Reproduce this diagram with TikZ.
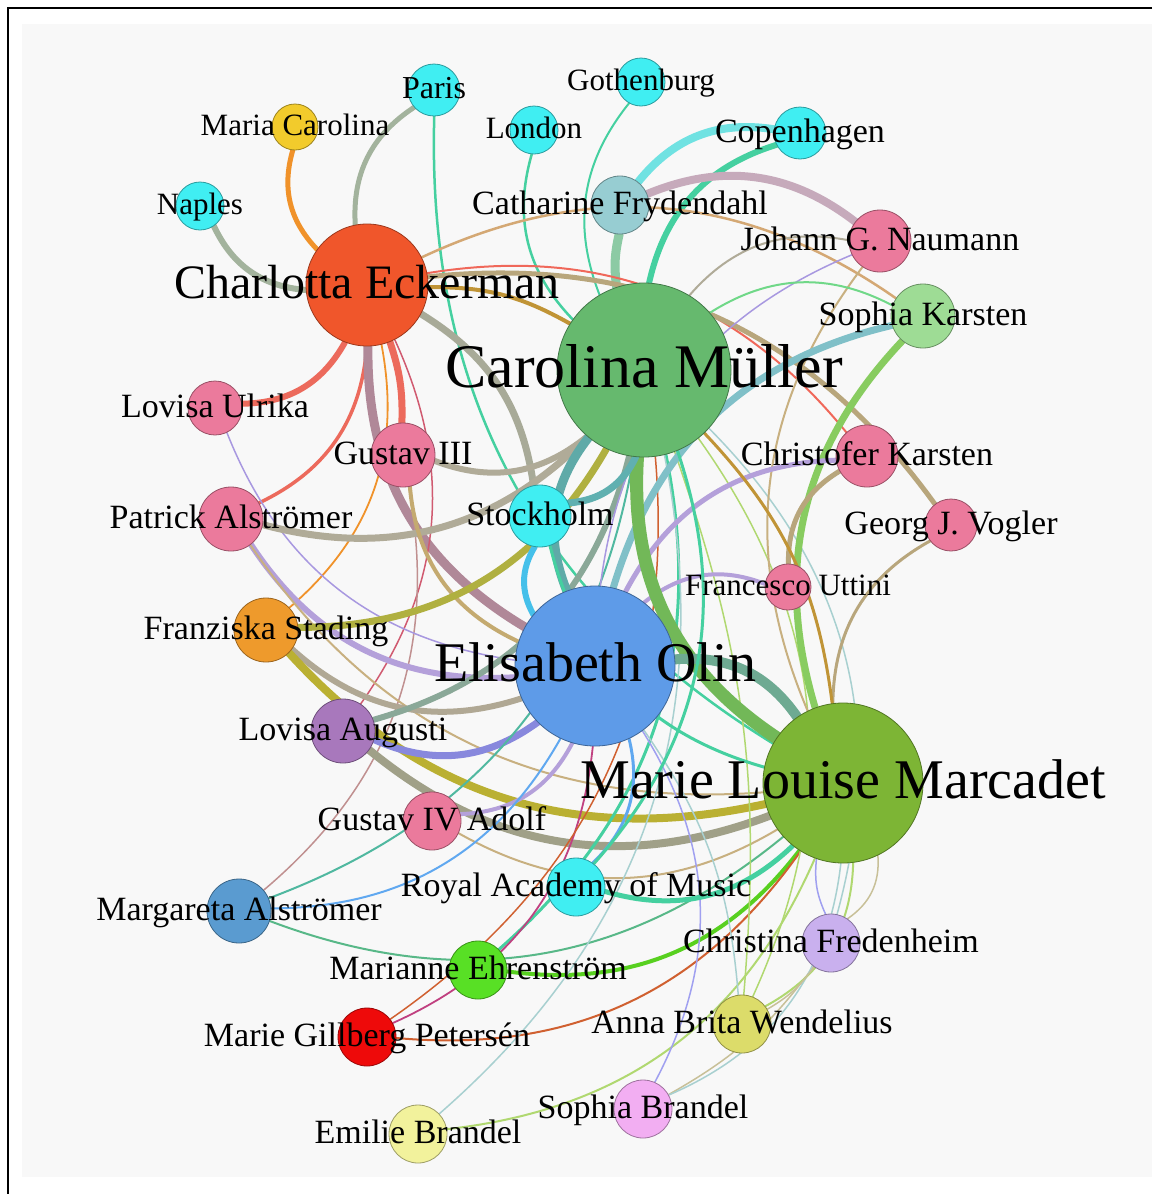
\documentclass[tikz,border=0pt]{standalone}
\usepackage{fontspec}
\setmainfont{Liberation Serif}
\pgfdeclarelayer{bg}
\pgfdeclarelayer{edges}
\pgfdeclarelayer{labels}
\pgfsetlayers{bg,edges,main,labels}

% node fills
\definecolor{city}{HTML}{40EEF2}
\definecolor{rose}{HTML}{EB7A9C}
\definecolor{cmgreen}{HTML}{66B96E}
\definecolor{eoblue}{HTML}{5E9BE8}
\definecolor{mlgreen}{HTML}{7DB535}
\definecolor{ceorange}{HTML}{F0562B}
\definecolor{mcyellow}{HTML}{F2CB2C}
\definecolor{cfteal}{HTML}{97CDD2}
\definecolor{sklight}{HTML}{9EDC95}
\definecolor{fsorange}{HTML}{EE9A2C}
\definecolor{lapurple}{HTML}{A878BC}
\definecolor{mablue}{HTML}{5A9BD0}
\definecolor{megreen}{HTML}{58E025}
\definecolor{mgred}{HTML}{EE0A0A}
\definecolor{cfrlav}{HTML}{C9B0EE}
\definecolor{awolive}{HTML}{DCDC6A}
\definecolor{sbpink}{HTML}{F2AEF2}
\definecolor{ebyellow}{HTML}{F2F29C}
\definecolor{canvas}{HTML}{F8F8F8}
% link colours
\definecolor{sage}{HTML}{A3B39D}
\definecolor{lorange}{HTML}{F0922A}
\definecolor{mint}{HTML}{45D0A0}
\definecolor{lcyan}{HTML}{70E2E2}
\definecolor{mauve}{HTML}{C6AABB}
\definecolor{paleg}{HTML}{8CCAA4}
\definecolor{ltan}{HTML}{D4A874}
\definecolor{lred}{HTML}{F0685A}
\definecolor{gold}{HTML}{C09436}
\definecolor{tant}{HTML}{B8A67C}
\definecolor{grayg}{HTML}{A8AA98}
\definecolor{redt}{HTML}{EC6A5C}
\definecolor{mauvet}{HTML}{B08898}
\definecolor{crimson}{HTML}{D05A70}
\definecolor{roseb}{HTML}{C09090}
\definecolor{lav}{HTML}{A898E0}
\definecolor{tangray}{HTML}{B0AB98}
\definecolor{lavt}{HTML}{B4A0DA}
\definecolor{tanthin}{HTML}{C8B080}
\definecolor{khaki}{HTML}{C4AA70}
\definecolor{olive}{HTML}{B0B040}
\definecolor{olivet}{HTML}{BAB032}
\definecolor{beige}{HTML}{B0A894}
\definecolor{lblue}{HTML}{8888DD}
\definecolor{grayteal}{HTML}{8AA898}
\definecolor{grayol}{HTML}{A0A088}
\definecolor{skyblue}{HTML}{60A8F0}
\definecolor{tealg}{HTML}{50B8A0}
\definecolor{greenm}{HTML}{58B888}
\definecolor{bgreen}{HTML}{58D020}
\definecolor{rust}{HTML}{D06030}
\definecolor{magenta}{HTML}{C04080}
\definecolor{lgreen}{HTML}{B0D870}
\definecolor{lteal}{HTML}{A8D0D0}
\definecolor{lavblue}{HTML}{A0A0F0}
\definecolor{khakil}{HTML}{C8C098}
\definecolor{tealblue}{HTML}{80C0C8}
\definecolor{leaf}{HTML}{88CC60}
\definecolor{bigleaf}{HTML}{72B858}
\definecolor{teal}{HTML}{5FAAA8}
\definecolor{seafoam}{HTML}{6EAA92}
\definecolor{azure}{HTML}{45C0EA}
\definecolor{stteal}{HTML}{60B0B0}
\definecolor{lgreenb}{HTML}{70D888}

\tikzset{
  vtx/.style={circle, inner sep=0pt, line width=0.8pt},
  lbl/.style={anchor=base, inner sep=0pt, text=black},
  edge/.style={line cap=round},
}
\newcommand{\conn}[5]{\draw[edge, draw=#3, line width=#4pt] (#1) to[#5] (#2);}

\begin{document}
\begin{tikzpicture}[x=1pt, y=-1pt]
\useasboundingbox (0,0) rectangle (1152,1194);
\begin{pgfonlayer}{bg}
  \fill[white] (0,0) rectangle (1152,1194);
  \fill[canvas] (22,24) rectangle (1152,1177);
  \draw[black, line width=2pt] (1152,8) -- (8,8) -- (8,1194);
\end{pgfonlayer}

% circles with their names
\foreach \n/\x/\y/\d/\c/\s/\t in {
  NA/200/206/48/city/31/Naples,
  MC/295/127/46/mcyellow/31/Maria Carolina,
  PA/434/90/52/city/32/Paris,
  GO/641/82/48/city/31/Gothenburg,
  LO/534/130/48/city/31/London,
  CO/800/133/52/city/34/Copenhagen,
  CF/620/205/58/cfteal/34/Catharine Frydendahl,
  JN/880/241/62/rose/34/Johann G. Naumann,
  SK/923/316/64/sklight/34/Sophia Karsten,
  CE/367/285/122/ceorange/48/Charlotta Eckerman,
  CM/644/370/174/cmgreen/62/Carolina Müller,
  LU/215/408/54/rose/34/Lovisa Ulrika,
  GT/403/455/64/rose/34/Gustav III,
  PAl/231/519/64/rose/34/Patrick Alströmer,
  ST/540/516/62/city/34/Stockholm,
  CK/867/456/62/rose/34/Christofer Karsten,
  GV/951/525/52/rose/34/Georg J. Vogler,
  FU/788/587/46/rose/31/Francesco Uttini,
  FS/266/630/64/fsorange/34/Franziska Stading,
  EO/595/666/160/eoblue/56/Elisabeth Olin,
  LA/343/731/64/lapurple/34/Lovisa Augusti,
  ML/843/783/160/mlgreen/56/Marie Louise Marcadet,
  GF/432/821/58/rose/34/Gustav IV Adolf,
  MA/239/911/64/mablue/34/Margareta Alströmer,
  RA/576/887/58/city/34/Royal Academy of Music,
  ME/478/970/58/megreen/34/Marianne Ehrenström,
  CFr/831/943/58/cfrlav/34/Christina Fredenheim,
  MG/367/1037/58/mgred/34/Marie Gillberg Petersén,
  AW/742/1024/58/awolive/34/Anna Brita Wendelius,
  SB/643/1109/58/sbpink/34/Sophia Brandel,
  EB/418/1134/58/ebyellow/34/Emilie Brandel}
{
  \node[vtx, fill=\c, draw=\c!65!black, minimum size=\d pt] (\n) at (\x,\y) {};
  \begin{pgfonlayer}{labels}
    \node[lbl, font=\fontsize{\s}{\s}\selectfont] at (\x,{\y+0.28*\s}) {\t};
  \end{pgfonlayer}
}

\begin{pgfonlayer}{edges}
% Charlotta Eckerman and the cities above
\conn{NA}{CE}{sage}{6}{bend right}
\conn{MC}{CE}{lorange}{5}{bend right}
\conn{PA}{CE}{sage}{5}{bend right}
\conn{PA}{ML}{mint}{2.5}{bend right}
\conn{LO}{CM}{mint}{2.5}{bend right}
\conn{GO}{CM}{mint}{2}{bend right}
\conn{CO}{CF}{lcyan}{8}{bend right}
\conn{CO}{CM}{mint}{6}{bend right}
\conn{CF}{JN}{mauve}{8}{bend left}
\conn{CF}{CM}{paleg}{9}{bend right=10}
\conn{CE}{SK}{ltan}{2.5}{bend left}
\conn{CE}{CK}{lred}{2}{bend left}
\conn{CE}{CM}{gold}{4}{bend left=15}
\conn{CE}{GV}{tant}{5}{bend left}
\conn{CE}{LU}{redt}{6}{bend left}
\conn{CE}{PAl}{redt}{3.5}{bend left}
\conn{CE}{GT}{redt}{7}{bend left=10}
\conn{CE}{EO}{mauvet}{9}{bend right}
\conn{CE}{FS}{lorange}{1.8}{bend left}
\conn{CE}{LA}{crimson}{1.5}{bend left}
\conn{CE}{ST}{grayg}{7}{bend left=25}
% left-hand group
\conn{GT}{MA}{roseb}{1.5}{bend left}
\conn{LU}{EO}{lav}{1.5}{bend right}
\conn{PAl}{CM}{tangray}{7}{bend right}
\conn{GT}{CM}{tangray}{6}{bend right}
\conn{PAl}{EO}{lavt}{6}{bend right}
\conn{PAl}{ML}{tanthin}{2}{bend right}
\conn{GT}{EO}{khaki}{4}{bend right}
\conn{FS}{CM}{olive}{7}{bend right}
\conn{FS}{EO}{beige}{6}{bend right}
\conn{FS}{ML}{olivet}{8}{bend right}
\conn{LA}{EO}{lblue}{7}{bend right}
\conn{LA}{CM}{grayteal}{6}{bend right}
\conn{LA}{ML}{grayol}{8}{bend right}
\conn{GF}{ML}{tanthin}{2}{bend right}
\conn{GF}{EO}{lavt}{4}{bend right}
\conn{MA}{EO}{skyblue}{2}{bend right}
\conn{MA}{CM}{tealg}{2}{bend right}
\conn{MA}{ML}{greenm}{2}{bend right}
% lower group
\conn{ME}{ML}{bgreen}{4}{bend right}
\conn{ME}{CM}{mint}{3}{bend right}
\conn{MG}{ML}{rust}{2}{bend right}
\conn{MG}{EO}{magenta}{1.8}{bend right}
\conn{MG}{CM}{rust}{1.5}{bend right}
\conn{EB}{ML}{lgreen}{2}{bend right}
\conn{EB}{CM}{lteal}{1.5}{bend right}
\conn{SB}{EO}{lavblue}{1.5}{bend right}
\conn{SB}{CFr}{khakil}{1.5}{bend right=12}
\conn{SB}{ML}{lteal}{1.5}{bend right}
\conn{AW}{ML}{lgreen}{2}{bend right}
\conn{AW}{CFr}{khakil}{1.5}{bend right=12}
\conn{AW}{CM}{lgreen}{1.5}{bend right}
\conn{CFr}{ML}{lavblue}{1.5}{bend left=15}
\conn{CFr}{ML}{khakil}{1.5}{bend right}
\conn{CM}{CFr}{lteal}{1.5}{bend left}
\conn{CM}{AW}{lgreen}{1.5}{bend left=12}
\conn{EO}{AW}{lteal}{1.5}{bend left=15}
% right-hand group
\conn{JN}{CM}{tangray}{2}{bend right}
\conn{JN}{EO}{lav}{1.5}{bend right}
\conn{JN}{ML}{tanthin}{2}{bend right}
\conn{CM}{SK}{lgreenb}{2}{bend left}
\conn{SK}{EO}{tealblue}{7}{bend right}
\conn{SK}{ML}{leaf}{7}{bend right}
\conn{CK}{FU}{tant}{5}{bend right}
\conn{GV}{ML}{tant}{3}{bend right}
\conn{CK}{EO}{lavt}{5}{bend right}
\conn{FU}{EO}{lavt}{4}{bend right}
% the central hubs
\conn{CM}{ML}{bigleaf}{13}{bend right}
\conn{CM}{EO}{teal}{9}{bend right}
\conn{EO}{ML}{seafoam}{10}{bend left}
\conn{ST}{EO}{azure}{6}{bend right}
\conn{ST}{CM}{stteal}{7}{bend right}
\conn{ST}{ML}{mint}{3}{bend right}
\conn{CM}{ML}{gold}{3}{bend left=18}
\conn{RA}{ML}{mint}{5}{bend right}
\conn{RA}{EO}{skyblue}{3}{bend right}
\conn{CM}{RA}{mint}{3}{bend left}
\end{pgfonlayer}
\end{tikzpicture}
\end{document}
